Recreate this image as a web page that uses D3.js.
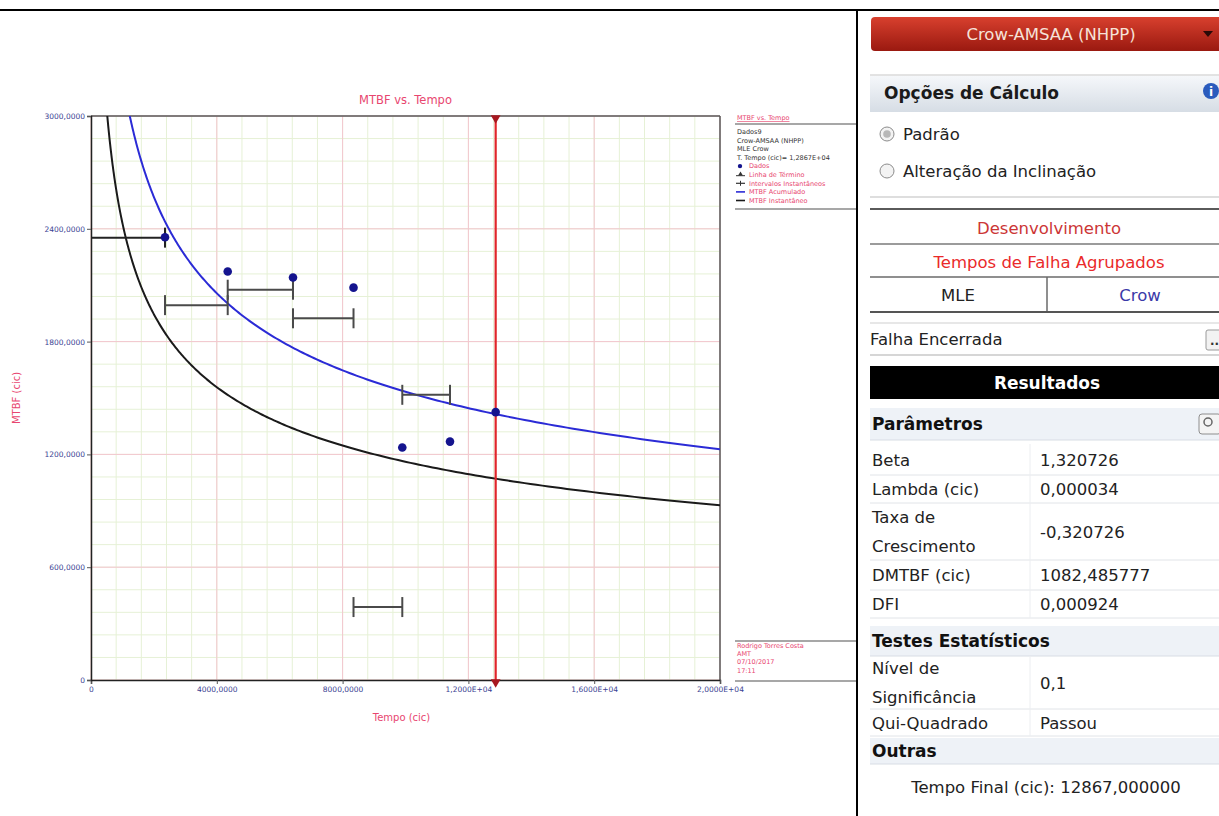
<!DOCTYPE html>
<html>
<head>
<meta charset="utf-8">
<script src="https://cdn.jsdelivr.net/npm/d3@7"></script>
<style>
  body { margin: 0; background: #fff; }
  svg { display: block; }
</style>
</head>
<body>
<svg id="view" width="1219" height="816"></svg>
<script>
// ---- Axis ticks ----
const xTicks = [0, 4000, 8000, 12000, 16000, 20000];
const xTickLabels = ["0", "4000,0000", "8000,0000", "1,2000E+04", "1,6000E+04", "2,0000E+04"];
const yTicks = [0, 600, 1200, 1800, 2400, 3000];
const yTickLabels = ["0", "600,0000", "1200,0000", "1800,0000", "2400,0000", "3000,0000"];

// ---- Crow-AMSAA (NHPP) fit parameters ----
const beta = 1.320726;
const lambda = 0.000034;
const endTime = 12867;

// ---- Grouped data: cumulative MTBF at each group end ----
const dataTimes = [2353, 4347, 6423, 8347, 9898, 11415, 12867];
const dataMTBF  = [2355, 2173, 2141, 2087, 1237, 1268, 1425];

// ---- Instantaneous intervals ----
const intervalStart = [0, 2353, 4347, 6423, 8347, 9898];
const intervalEnd   = [2353, 4347, 6423, 8347, 9898, 11415];
const intervalMTBF  = [2353, 1994, 2076, 1924, 388, 1517];

// ---- Legend ----
const legendHeader = ["Dados9", "Crow-AMSAA (NHPP)", "MLE Crow", "T. Tempo (cic)= 1,2867E+04"];
const legendItems = ["Dados", "Linha de Término", "Intervalos Instantâneos", "MTBF Acumulado", "MTBF Instantâneo"];
const stampLines = ["Rodrigo Torres Costa", "AMT", "07/10/2017", "17:11"];

// ---- Results panel ----
const paramLabels = [["Beta"], ["Lambda (cic)"], ["Taxa de", "Crescimento"], ["DMTBF (cic)"], ["DFI"]];
const paramValues = ["1,320726", "0,000034", "-0,320726", "1082,485777", "0,000924"];
const testLabels = [["Nível de", "Significância"], ["Qui-Quadrado"]];
const testValues = ["0,1", "Passou"];

const svg = d3.select("#view");
const chartFont = "'DejaVu Sans', Verdana, sans-serif";
const panelFont = "'DejaVu Sans', Verdana, sans-serif";
const pink = "#e8466f";
const navy = "#3b3f93";

const plotL = 91, plotR = 720, plotT = 116, plotB = 680;
const x = d3.scaleLinear().domain([0, 20000]).range([plotL, plotR]);
const y = d3.scaleLinear().domain([0, 3000]).range([plotB, plotT]);

// ---- grid ----
const grid = svg.append("g");
grid.selectAll(".vmin").data(d3.range(0, 20001, 800)).join("line")
  .attr("x1", d => x(d)).attr("x2", d => x(d)).attr("y1", plotT).attr("y2", plotB)
  .attr("stroke", "#e6f1d6").attr("stroke-width", 1);
grid.selectAll(".hmin").data(d3.range(0, 3001, 120)).join("line")
  .attr("x1", plotL).attr("x2", plotR).attr("y1", d => y(d)).attr("y2", d => y(d))
  .attr("stroke", "#e6f1d6").attr("stroke-width", 1);
grid.selectAll(".vmaj").data(xTicks).join("line")
  .attr("x1", d => x(d)).attr("x2", d => x(d)).attr("y1", plotT).attr("y2", plotB)
  .attr("stroke", "#f3c6cf").attr("stroke-width", 1);
grid.selectAll(".hmaj").data(yTicks).join("line")
  .attr("x1", plotL).attr("x2", plotR).attr("y1", d => y(d)).attr("y2", d => y(d))
  .attr("stroke", "#f3c6cf").attr("stroke-width", 1);

// frame top/right
svg.append("line").attr("x1", plotL).attr("x2", plotR).attr("y1", plotT).attr("y2", plotT)
  .attr("stroke", "#5a5a5a").attr("stroke-width", 1.5);
svg.append("line").attr("x1", plotR).attr("x2", plotR).attr("y1", plotT).attr("y2", plotB)
  .attr("stroke", "#5a5a5a").attr("stroke-width", 1.5);

// ---- axes ----
const xAxis = svg.append("g").attr("transform", `translate(0,${plotB})`)
  .call(d3.axisBottom(x).tickValues(xTicks).tickFormat((d, i) => xTickLabels[i]).tickSize(4).tickPadding(3));
const yAxis = svg.append("g").attr("transform", `translate(${plotL},0)`)
  .call(d3.axisLeft(y).tickValues(yTicks).tickFormat((d, i) => yTickLabels[i]).tickSize(4).tickPadding(2));
[xAxis, yAxis].forEach(a => {
  a.select(".domain").attr("stroke", "#222").attr("stroke-width", 1.5);
  a.selectAll(".tick line").attr("stroke", "#555");
  a.selectAll(".tick text").attr("fill", navy).style("font-family", chartFont).style("font-size", "7.5px");
});

// ---- titles ----
svg.append("text").attr("x", (plotL + plotR) / 2).attr("y", 104).attr("text-anchor", "middle")
  .attr("fill", pink).style("font-family", chartFont).style("font-size", "11.5px").text("MTBF vs. Tempo");
svg.append("text").attr("x", (plotL + plotR) / 2 - 4).attr("y", 721).attr("text-anchor", "middle")
  .attr("fill", pink).style("font-family", chartFont).style("font-size", "10px").text("Tempo (cic)");
svg.append("text").attr("transform", `translate(20,${(plotT + plotB) / 2}) rotate(-90)`).attr("text-anchor", "middle")
  .attr("fill", pink).style("font-family", chartFont).style("font-size", "10px").text("MTBF (cic)");

// ---- curves ----
svg.append("clipPath").attr("id", "plotClip").append("rect")
  .attr("x", plotL).attr("y", plotT).attr("width", plotR - plotL).attr("height", plotB - plotT);
const tSamples = d3.range(0, 400).map(i => 100 * Math.pow(200, i / 399));
const cumulative = t => Math.pow(t, 1 - beta) / lambda;
const instantaneous = t => cumulative(t) / beta;
const lineGen = f => d3.line().x(t => x(t)).y(t => y(f(t)))(tSamples);
const curves = svg.append("g").attr("clip-path", "url(#plotClip)");
curves.append("path").attr("d", lineGen(instantaneous)).attr("fill", "none")
  .attr("stroke", "#1a1a1a").attr("stroke-width", 2);
curves.append("path").attr("d", lineGen(cumulative)).attr("fill", "none")
  .attr("stroke", "#2b2bd6").attr("stroke-width", 2);

// ---- intervals ----
const iv = svg.append("g");
intervalMTBF.forEach((v, i) => {
  const g = iv.append("g").attr("stroke", i === 0 ? "#222" : "#4a4a4a").attr("stroke-width", 2);
  g.append("line").attr("x1", x(intervalStart[i])).attr("x2", x(intervalEnd[i])).attr("y1", y(v)).attr("y2", y(v));
  if (i > 0) g.append("line").attr("x1", x(intervalStart[i])).attr("x2", x(intervalStart[i])).attr("y1", y(v) - 10).attr("y2", y(v) + 10);
  g.append("line").attr("x1", x(intervalEnd[i])).attr("x2", x(intervalEnd[i])).attr("y1", y(v) - 10).attr("y2", y(v) + 10);
});

// ---- termination line ----
svg.append("line").attr("x1", x(endTime)).attr("x2", x(endTime)).attr("y1", plotT).attr("y2", plotB)
  .attr("stroke", "#e0262a").attr("stroke-width", 2.2);
const tri = d3.symbol().type(d3.symbolTriangle).size(42);
[plotT + 2, plotB + 2].forEach(yy => {
  svg.append("path").attr("d", tri()).attr("transform", `translate(${x(endTime)},${yy}) rotate(180)`)
    .attr("fill", "#a81820");
});

// ---- data points ----
svg.append("g").selectAll("circle").data(dataTimes).join("circle")
  .attr("cx", d => x(d)).attr("cy", (d, i) => y(dataMTBF[i])).attr("r", 4.3)
  .attr("fill", "#14148e");

// ---- legend ----
const lg = svg.append("g").style("font-family", chartFont).style("font-size", "6.5px");
lg.append("text").attr("x", 737).attr("y", 120).attr("fill", pink).attr("text-decoration", "underline").text("MTBF vs. Tempo");
legendHeader.forEach((t, i) => lg.append("text").attr("x", 737).attr("y", 134 + i * 8.6).attr("fill", "#333").text(t));
legendItems.forEach((t, i) => {
  const yy = 134 + (i + 4) * 8.6;
  lg.append("text").attr("x", 749).attr("y", yy).attr("fill", pink).text(t);
  const cy = yy - 2.3;
  if (i === 0) lg.append("circle").attr("cx", 740).attr("cy", cy).attr("r", 2.2).attr("fill", "#14148e");
  if (i === 1) {
    lg.append("line").attr("x1", 736).attr("x2", 745).attr("y1", cy + 1).attr("y2", cy + 1).attr("stroke", "#333").attr("stroke-width", 1);
    lg.append("path").attr("d", d3.symbol().type(d3.symbolTriangle).size(10)()).attr("transform", `translate(740.5,${cy - 0.5})`).attr("fill", "#333");
  }
  if (i === 2) {
    lg.append("line").attr("x1", 736).attr("x2", 745).attr("y1", cy).attr("y2", cy).attr("stroke", "#333").attr("stroke-width", 1.2);
    lg.append("line").attr("x1", 740.5).attr("x2", 740.5).attr("y1", cy - 2.5).attr("y2", cy + 2.5).attr("stroke", "#333").attr("stroke-width", 1);
  }
  if (i === 3) lg.append("line").attr("x1", 736).attr("x2", 745).attr("y1", cy).attr("y2", cy).attr("stroke", "#2b2bd6").attr("stroke-width", 1.6);
  if (i === 4) lg.append("line").attr("x1", 736).attr("x2", 745).attr("y1", cy).attr("y2", cy).attr("stroke", "#1a1a1a").attr("stroke-width", 1.6);
});

// stamp (author / date)
stampLines.forEach((t, i) => lg.append("text").attr("x", 737).attr("y", 648 + i * 8.2).attr("fill", pink).text(t));

// pointer lines between the chart notes and the panel
[[735, 124], [735, 209], [735, 641], [735, 681]].forEach(([x0, yy]) => {
  svg.append("line").attr("x1", x0).attr("x2", 870).attr("y1", yy).attr("y2", yy)
    .attr("stroke", "#8a8a8a").attr("stroke-width", 1.5);
});

// ---- results panel ----
const P = svg.append("g").style("font-family", panelFont);
const defs = svg.append("defs");
const btnGrad = defs.append("linearGradient").attr("id", "btnGrad").attr("x1", 0).attr("x2", 0).attr("y1", 0).attr("y2", 1);
btnGrad.append("stop").attr("offset", "0%").attr("stop-color", "#d8402e");
btnGrad.append("stop").attr("offset", "100%").attr("stop-color", "#9a1910");
const hdrGrad = defs.append("linearGradient").attr("id", "hdrGrad").attr("x1", 0).attr("x2", 0).attr("y1", 0).attr("y2", 1);
hdrGrad.append("stop").attr("offset", "0%").attr("stop-color", "#f5f7fa");
hdrGrad.append("stop").attr("offset", "100%").attr("stop-color", "#d6dde5");

const FS = "16.5px", FSB = "17px", BASE = 6;
const txt = (t, xx, cy, opts = {}) => P.append("text").attr("x", xx).attr("y", cy + BASE)
  .attr("text-anchor", opts.anchor || "start").attr("fill", opts.fill || "#222")
  .style("font-size", opts.bold ? FSB : FS).style("font-weight", opts.bold ? "bold" : "normal").text(t);
const hline = (yy, stroke, w = 1) => P.append("line").attr("x1", 870).attr("x2", 1219).attr("y1", yy).attr("y2", yy)
  .attr("stroke", stroke).attr("stroke-width", w);

P.append("rect").attr("x", 858).attr("y", 11).attr("width", 361).attr("height", 805).attr("fill", "#fff");
P.append("rect").attr("x", 871).attr("y", 17).attr("width", 370).attr("height", 34).attr("rx", 4).attr("fill", "url(#btnGrad)");
txt("Crow-AMSAA (NHPP)", 1051, 34, { anchor: "middle", fill: "#f6e2d8" });
P.append("path").attr("d", "M1203,31 L1213,31 L1208,37 Z").attr("fill", "#2a0a08");

hline(75, "#c6c6c6");
P.append("rect").attr("x", 870).attr("y", 76).attr("width", 349).attr("height", 36).attr("fill", "url(#hdrGrad)");
txt("Opções de Cálculo", 884, 93, { bold: true, fill: "#1b1b1b" });
P.append("circle").attr("cx", 1211).attr("cy", 91).attr("r", 8).attr("fill", "#2a5bbd");
P.append("text").attr("x", 1211).attr("y", 96).attr("text-anchor", "middle").attr("fill", "#fff").style("font-size", "12px").style("font-weight", "bold").text("i");

[["Padrão", 134, true], ["Alteração da Inclinação", 171, false]].forEach(([t, yy, sel]) => {
  P.append("circle").attr("cx", 887).attr("cy", yy).attr("r", 7).attr("fill", "#f3f3f3").attr("stroke", "#8c8c8c");
  if (sel) P.append("circle").attr("cx", 887).attr("cy", yy).attr("r", 3.8).attr("fill", "#b8b8b8");
  txt(t, 903, yy);
});

hline(197, "#bdbdbd");
hline(209, "#5a5a5a", 2);
txt("Desenvolvimento", 1049, 228, { anchor: "middle", fill: "#cc3636" });
hline(244, "#7a7a7a", 1.5);
txt("Tempos de Falha Agrupados", 1049, 262, { anchor: "middle", fill: "#ea2a2a" });
hline(277, "#6a6a6a", 1.5);
txt("MLE", 958, 295, { anchor: "middle" });
txt("Crow", 1140, 295, { anchor: "middle", fill: "#3a3aa8" });
P.append("line").attr("x1", 1047).attr("x2", 1047).attr("y1", 277).attr("y2", 312).attr("stroke", "#6a6a6a").attr("stroke-width", 1.5);
hline(312, "#555", 2);

hline(323, "#cfcfcf");
txt("Falha Encerrada", 870, 339);
P.append("rect").attr("x", 1206).attr("y", 330).attr("width", 16).attr("height", 20).attr("rx", 2).attr("fill", "#f2f2f2").attr("stroke", "#9a9a9a");
P.append("text").attr("x", 1210).attr("y", 345).attr("fill", "#333").style("font-size", "12px").style("font-weight", "bold").text("..");
hline(355, "#adadad");

P.append("rect").attr("x", 870).attr("y", 366).attr("width", 349).attr("height", 33).attr("fill", "#000");
txt("Resultados", 1047, 383, { anchor: "middle", fill: "#fff", bold: true });

const sectionRow = (label, y0, y1) => {
  P.append("rect").attr("x", 870).attr("y", y0).attr("width", 349).attr("height", y1 - y0).attr("fill", "#eef2f7");
  txt(label, 872, (y0 + y1) / 2, { bold: true, fill: "#111" });
  hline(y1, "#d8dde4");
};
// rows: [top, bottom] boundaries; text centred inside
const valueRows = (labels, values, bounds) => {
  labels.forEach((lab, i) => {
    const [y0, y1] = bounds[i];
    const mid = (y0 + y1) / 2;
    if (lab.length === 1) txt(lab[0], 872, mid);
    else { txt(lab[0], 872, mid - 14.5); txt(lab[1], 872, mid + 14.5); }
    txt(values[i], 1040, mid);
    hline(y1, "#e1e4e8");
    P.append("line").attr("x1", 1030).attr("x2", 1030).attr("y1", y0).attr("y2", y1).attr("stroke", "#eceef1");
  });
};

sectionRow("Parâmetros", 408, 440);
P.append("rect").attr("x", 1199).attr("y", 414).attr("width", 22).attr("height", 20).attr("rx", 3).attr("fill", "#f4f4f4").attr("stroke", "#8e8e8e");
P.append("circle").attr("cx", 1208).attr("cy", 422).attr("r", 4).attr("fill", "none").attr("stroke", "#666").attr("stroke-width", 1.5);
valueRows(paramLabels, paramValues, [[444, 475], [475, 503], [503, 560], [560, 590], [590, 618]]);
sectionRow("Testes Estatísticos", 626, 656);
valueRows(testLabels, testValues, [[656, 709], [709, 736]]);
sectionRow("Outras", 738, 764);
txt("Tempo Final (cic): 12867,000000", 1046, 787, { anchor: "middle" });

// outer frame of the screen
svg.append("line").attr("x1", 0).attr("x2", 1219).attr("y1", 10).attr("y2", 10).attr("stroke", "#000").attr("stroke-width", 2);
svg.append("line").attr("x1", 857).attr("x2", 857).attr("y1", 10).attr("y2", 816).attr("stroke", "#000").attr("stroke-width", 2);
</script>
</body>
</html>
